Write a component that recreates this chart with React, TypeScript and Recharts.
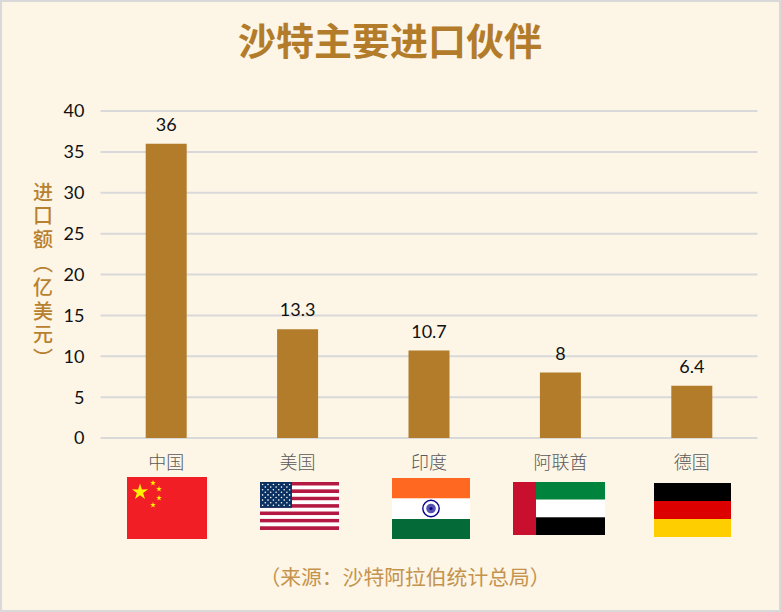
import { BarChart, Bar, XAxis, YAxis, CartesianGrid, LabelList } from "recharts";

const countries = ["中国", "美国", "印度", "阿联酋", "德国"];
const imports = [36, 13.3, 10.7, 8, 6.4];
const yTicks = [0, 5, 10, 15, 20, 25, 30, 35, 40];
const yTitle = "进口额（亿美元）";

const data = countries.map((name, i) => ({ name, value: imports[i] }));

const CJK = '"Noto Sans CJK SC", sans-serif';
const BROWN = "#B27C2B";

const Star = ({ cx, cy, r }: { cx: number; cy: number; r: number }) => {
  const pts: string[] = [];
  for (let i = 0; i < 10; i++) {
    const a = -Math.PI / 2 + (i * Math.PI) / 5;
    const rad = i % 2 === 0 ? r : r * 0.38;
    pts.push(`${cx + rad * Math.cos(a)},${cy + rad * Math.sin(a)}`);
  }
  return <polygon points={pts.join(" ")} fill="#FFF200" />;
};

const ChinaFlag = () => (
  <g>
    <rect x={127} y={477} width={80} height={62} fill="#F11E26" />
    <Star cx={140} cy={492} r={8.5} />
    <Star cx={153} cy={483} r={3} />
    <Star cx={159} cy={489} r={3} />
    <Star cx={159} cy={498} r={3} />
    <Star cx={153} cy={505} r={3} />
  </g>
);

const UsaFlag = () => {
  const stripes = Array.from({ length: 13 }, (_, i) => i);
  const rows = Array.from({ length: 9 }, (_, i) => i);
  return (
    <g>
      {stripes.map((i) => (
        <rect key={i} x={260} y={482 + i * 3.69} width={79} height={3.69} fill={i % 2 === 0 ? "#B31942" : "#FFFFFF"} />
      ))}
      <rect x={260} y={482} width={32} height={25.8} fill="#0A3161" />
      {rows.map((r) =>
        Array.from({ length: r % 2 === 0 ? 6 : 5 }, (_, c) => (
          <circle key={`${r}-${c}`} cx={262.6 + (r % 2 === 0 ? 0 : 2.7) + c * 5.4} cy={484.5 + r * 2.6} r={0.8} fill="#FFFFFF" />
        ))
      )}
    </g>
  );
};

const IndiaFlag = () => (
  <g>
    <rect x={392} y={478} width={78} height={20.5} fill="#FF6820" />
    <rect x={392} y={498.5} width={78} height={20.5} fill="#FFFFFF" />
    <rect x={392} y={519} width={78} height={20} fill="#046A38" />
    <circle cx={431} cy={508.5} r={8.2} fill="#FFFFFF" stroke="#06038D" strokeWidth={1.4} />
    <circle cx={431} cy={508.5} r={4.8} fill="#5653B0" />
    <circle cx={431} cy={508.5} r={1.6} fill="#06038D" />
  </g>
);

const UaeFlag = () => (
  <g>
    <rect x={536} y={482} width={69} height={17.7} fill="#00843D" />
    <rect x={536} y={499.7} width={69} height={17.6} fill="#FFFFFF" />
    <rect x={536} y={517.3} width={69} height={17.7} fill="#000000" />
    <rect x={513} y={482} width={23} height={53} fill="#C8102E" />
  </g>
);

const GermanyFlag = () => (
  <g>
    <rect x={654} y={483} width={77} height={18} fill="#000000" />
    <rect x={654} y={501} width={77} height={18} fill="#DD0000" />
    <rect x={654} y={519} width={77} height={18} fill="#FFCE00" />
  </g>
);

const flags = [ChinaFlag, UsaFlag, IndiaFlag, UaeFlag, GermanyFlag];

const CountryTick = ({ x, payload, index }: any) => {
  const Flag = flags[index];
  return (
    <g>
      <text x={x} y={469} textAnchor="middle" fontFamily={CJK} fontSize={18} fill="#595959" fontWeight={300}>
        {payload.value}
      </text>
      {Flag ? <Flag /> : null}
    </g>
  );
};

const App = () => {
  return (
    <div
      style={{
        position: "absolute",
        left: 0,
        top: 0,
        width: 777,
        height: 608,
        background: "#FDF5E6",
        border: "2px solid #D9D9D9",
      }}
    >
      <div style={{ position: "absolute", left: -2, top: -2 }}>
        <BarChart
          width={781}
          height={612}
          data={data}
          margin={{ top: 111, right: 23.5, bottom: 0, left: 0 }}
          barCategoryGap="34.4%"
        >
          <CartesianGrid vertical={false} stroke="#D9D9D9" strokeWidth={2} />
          <XAxis
            dataKey="name"
            height={174}
            axisLine={false}
            tickLine={false}
            interval={0}
            tick={<CountryTick />}
          />
          <YAxis
            width={100.5}
            domain={[0, 40]}
            ticks={yTicks}
            axisLine={false}
            tickLine={false}
            tickMargin={10}
            tick={{ fontFamily: "Lato, sans-serif", fontSize: 18, fill: "#111111" }}
          />
          <Bar dataKey="value" fill={BROWN} isAnimationActive={false}>
            <LabelList
              dataKey="value"
              position="top"
              offset={13}
              style={{ fontFamily: "Lato, sans-serif", fontSize: 18, fill: "#111111" }}
            />
          </Bar>
          <text x={390} y={55} textAnchor="middle" fontFamily={CJK} fontSize={38} fontWeight={700} fill={BROWN}>
            沙特主要进口伙伴
          </text>
          <text
            x={43}
            y={182}
            fontFamily={CJK}
            fontSize={20}
            fontWeight={500}
            fill="#B8812F"
            letterSpacing={3.8}
            style={{ writingMode: "vertical-rl" }}
          >
            {yTitle}
          </text>
          <text x={405} y={585} textAnchor="middle" fontFamily={CJK} fontSize={20.8} fill="#C4934D">
            （来源：沙特阿拉伯统计总局）
          </text>
        </BarChart>
      </div>
    </div>
  );
};

export default App;
